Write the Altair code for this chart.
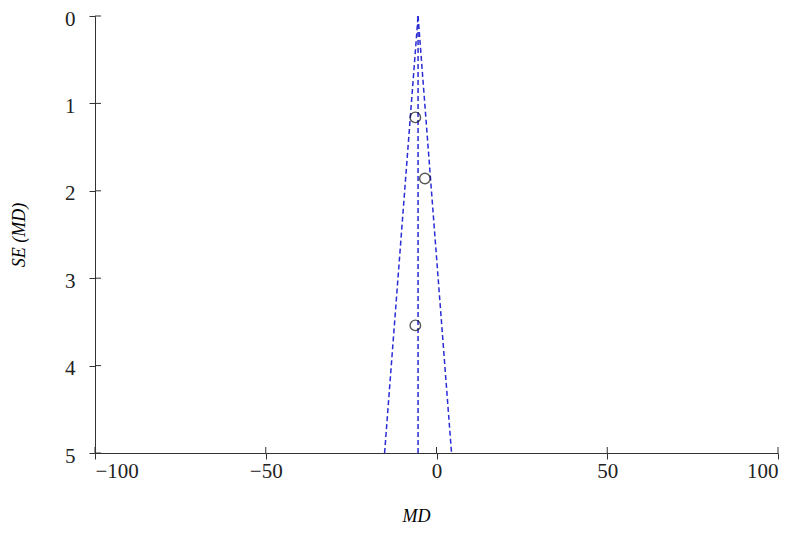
import altair as alt
import pandas as pd

# study data
md_values = [-6.2, -3.4, -6.2]
se_values = [1.16, 1.86, 3.54]

pooled_md = -5.4
se_max = 5
z = 1.96

x_ticks = [-100, -50, 0, 50, 100]
y_ticks = [0, 1, 2, 3, 4, 5]

pts = pd.DataFrame({"md": md_values, "se": se_values})

lines = pd.DataFrame({
    "md": [pooled_md, pooled_md - z * se_max,
           pooled_md, pooled_md,
           pooled_md, pooled_md + z * se_max],
    "se": [0, se_max, 0, se_max, 0, se_max],
    "line": ["lo", "lo", "mid", "mid", "hi", "hi"],
})

font = "Liberation Serif"

xscale = alt.Scale(domain=[-100, 100], nice=False, zero=False)
yscale = alt.Scale(domain=[0, 5], reverse=True, nice=False, zero=False)

xaxis = alt.Axis(values=x_ticks, title="MD", titleFont=font, titleFontStyle="italic",
                 titleFontWeight="normal", titleFontSize=18,
                 titleX=321, titleY=68, titleAlign="center", titleBaseline="alphabetic",
                 labelFont=font, labelFontSize=21, labelColor="#222", tickSize=6,
                 domainColor="#333", tickColor="#333", grid=False, labelPadding=1,
                 format="d", labelExpr="replace(datum.label, '-', '−')")
yaxis = alt.Axis(values=y_ticks, title="SE (MD)", titleFont=font, titleFontStyle="italic",
                 titleFontWeight="normal", titleFontSize=18, titlePadding=36,
                 labelFont=font, labelFontSize=21, labelColor="#222", tickSize=6,
                 domainColor="#333", tickColor="#333", grid=False, labelPadding=14,
                 labelBaseline="top", labelOffset=-8,
                 format="d")

funnel = alt.Chart(lines).mark_line(
    color="#2b2bd6", strokeDash=[5, 3], strokeWidth=1.5
).encode(
    x=alt.X("md:Q", scale=xscale, axis=xaxis),
    y=alt.Y("se:Q", scale=yscale, axis=yaxis),
    detail="line:N",
)

points = alt.Chart(pts).mark_point(
    shape="circle", filled=False, color="#111", size=110, strokeWidth=1.4
).encode(
    x=alt.X("md:Q", scale=xscale),
    y=alt.Y("se:Q", scale=yscale),
)

yt = pd.DataFrame({"se": y_ticks})
inner_y = alt.Chart(yt).mark_rule(color="#333").encode(
    y=alt.Y("se:Q", scale=yscale), x=alt.value(0), x2=alt.value(6)
)
xt = pd.DataFrame({"md": x_ticks})
inner_x = alt.Chart(xt).mark_rule(color="#333").encode(
    x=alt.X("md:Q", scale=xscale), y=alt.value(437), y2=alt.value(431)
)

chart = alt.layer(funnel, points, inner_y, inner_x).properties(
    width=683, height=437,
    autosize=alt.AutoSizeParams(type="none"),
    padding={"left": 87, "top": 8, "right": 2, "bottom": 73},
).configure_view(strokeWidth=0, stroke="transparent")

chart.save("out.html", embed_options={"renderer": "svg", "actions": False})
